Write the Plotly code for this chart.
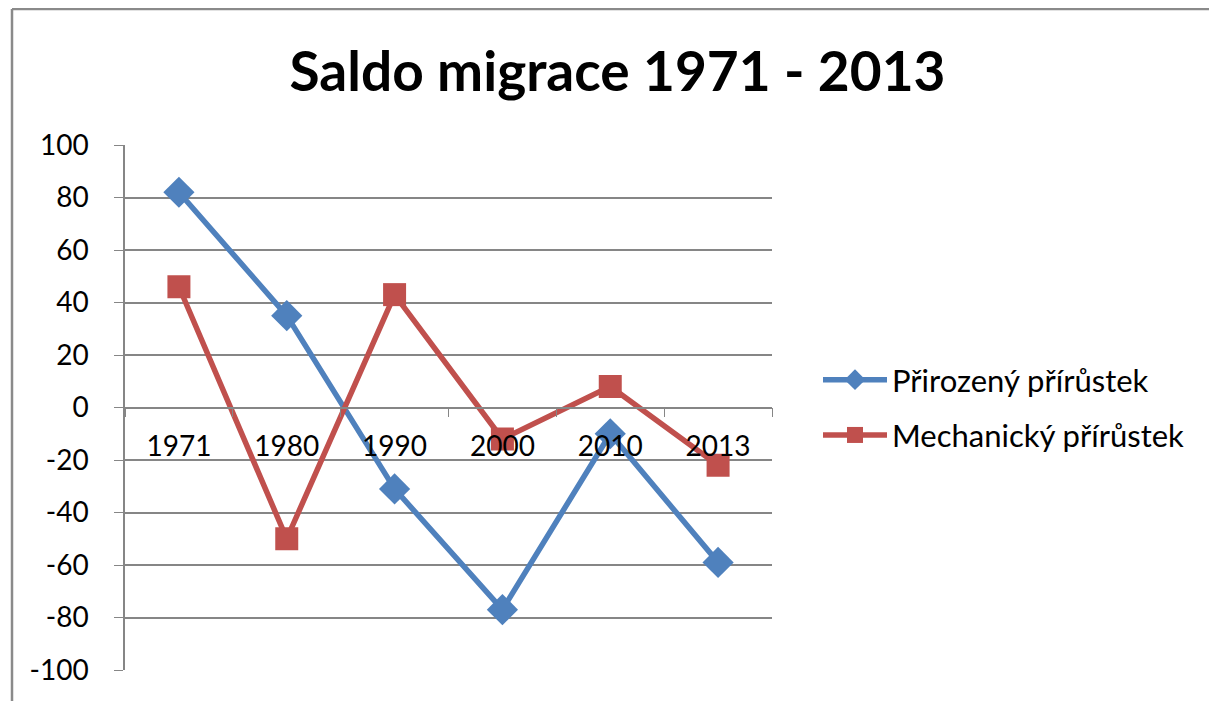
import plotly.graph_objects as go

years = ["1971", "1980", "1990", "2000", "2010", "2013"]
prirozeny = [82, 35, -31, -77, -10, -59]
mechanicky = [46, -50, 43, -12, 8, -22]
y_ticks = [100, 80, 60, 40, 20, 0, -20, -40, -60, -80, -100]
y_labels = [str(v) for v in y_ticks]

FONT = "Lato"
fig = go.Figure()
fig.add_trace(go.Scatter(
    x=years, y=prirozeny, name="Přirozený přírůstek", mode="lines+markers",
    line=dict(color="#4F81BD", width=5.5),
    marker=dict(symbol="diamond", size=24, color="#4F81BD"),
    legendgroup="a"))
fig.add_trace(go.Scatter(
    x=years, y=mechanicky, name="Mechanický přírůstek", mode="lines+markers",
    line=dict(color="#C0504D", width=5.5),
    marker=dict(symbol="square", size=23, color="#C0504D"),
    legendgroup="b"))

# page body has an 8px offset, so figure coords = viewport coords - 8
fig.update_layout(
    width=1209, height=693,
    margin=dict(l=117, r=445, t=137, b=31),
    paper_bgcolor="white", plot_bgcolor="white",
    font=dict(family=FONT, size=28, color="#000000"),
    title=dict(text="<b>Saldo migrace 1971 - 2013</b>", x=(617.5 - 8) / 1209,
               xanchor="center", y=1 - 64 / 693, yanchor="middle",
               font=dict(family=FONT, size=55, color="#000000")),
    showlegend=True,
    legend=dict(x=(818 - 125) / 647, xanchor="left", y=0.5, yanchor="middle",
                font=dict(family=FONT, size=31), traceorder="grouped",
                tracegroupgap=12, itemwidth=64, bgcolor="rgba(0,0,0,0)"),
    xaxis=dict(type="category", anchor="free", position=0.5,
               showline=True, linecolor="#868686", linewidth=1.5,
               ticks="outside", tickson="boundaries", ticklen=9, tickcolor="#868686",
               showgrid=False, zeroline=False, tickfont=dict(size=28),
               ticklabelstandoff=14, range=[-0.5, 5.5]),
    yaxis=dict(range=[-100, 100], tickvals=y_ticks, ticktext=y_labels, showline=True,
               linecolor="#868686", linewidth=1.5, ticks="outside", ticklen=9,
               tickcolor="#868686", showgrid=True, gridcolor="#868686", gridwidth=1.5,
               zeroline=False, tickfont=dict(size=28), ticklabelstandoff=20),
)
# outer chart frame (left and top edges visible in the reference)
fig.add_shape(type="line", xref="paper", yref="paper",
              x0=(4 - 117) / 647, x1=(4 - 117) / 647, y0=-0.3, y1=(662 - 1) / 525,
              line=dict(color="#8a8a8a", width=2.5), layer="below")
fig.add_shape(type="line", xref="paper", yref="paper",
              x0=(4 - 117) / 647, x1=2.5, y0=(662 - 1) / 525, y1=(662 - 1) / 525,
              line=dict(color="#8a8a8a", width=2.5), layer="below")
fig.write_html("out.html")
